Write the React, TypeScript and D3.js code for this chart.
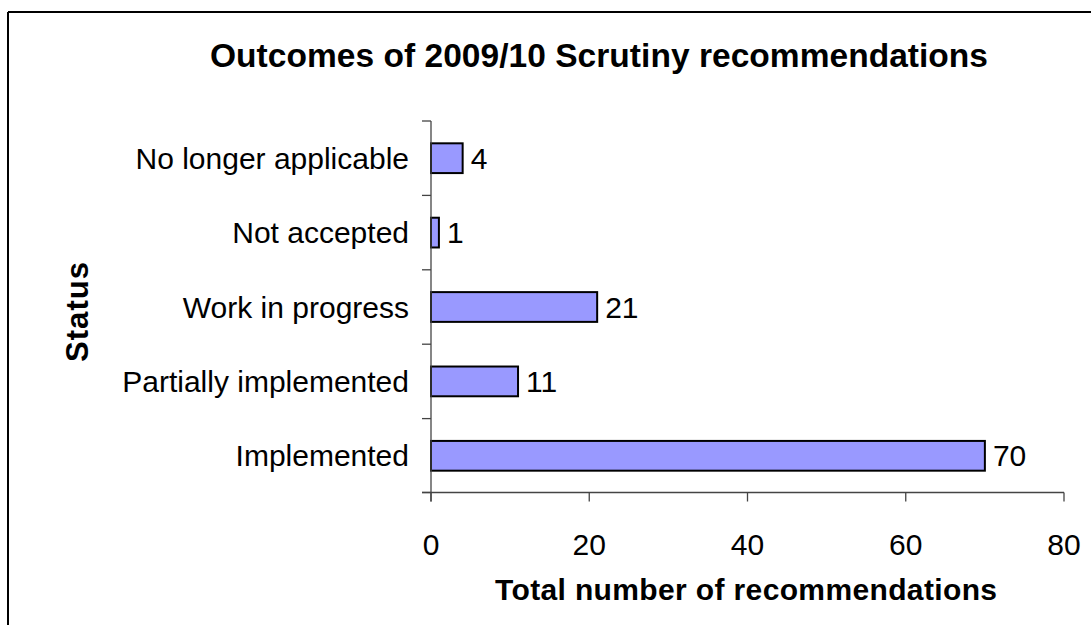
import React from "react";
import * as d3 from "d3";

const categories = ["No longer applicable", "Not accepted", "Work in progress", "Partially implemented", "Implemented"];
const values = [4, 1, 21, 11, 70];
const xTicks = [0, 20, 40, 60, 80];
const title = "Outcomes of 2009/10 Scrutiny recommendations";
const xTitle = "Total number of recommendations";
const yTitle = "Status";

const W = 1091;
const H = 625;
const FONT = "'Liberation Sans', Arial, sans-serif";

export default function App() {
  const x = d3.scaleLinear().domain([0, 80]).range([431, 1064]);
  const y = d3.scaleBand<string>().domain(categories).range([121, 493]).paddingInner(0.6).paddingOuter(0.3);
  const axisY = 492.5;
  const bw = y.bandwidth();
  const step = y.step();
  const boundaries = d3.range(categories.length + 1).map((i) => 121 + i * step);

  return (
    <svg width={W} height={H} style={{ position: "absolute", left: 0, top: 0, background: "#fff" }} fontFamily={FONT}>
      <rect x={0} y={0} width={W} height={H} fill="#fff" />
      <line x1={8} y1={12} x2={W} y2={12} stroke="#000" strokeWidth={2} />
      <line x1={8} y1={12} x2={8} y2={H} stroke="#000" strokeWidth={2} />

      <text x={599} y={67} textAnchor="middle" fontSize={33.5} fontWeight="bold" textLength={778} lengthAdjust="spacing">
        {title}
      </text>

      {categories.map((c, i) => (
        <g key={c}>
          <rect x={x(0)} y={y(c)!} width={x(values[i]) - x(0)} height={bw} fill="#9999FF" stroke="#000" strokeWidth={2} />
          <text x={x(values[i]) + 8} y={y(c)! + bw / 2 + 10.5} fontSize={30}>
            {values[i]}
          </text>
          <text x={409} y={y(c)! + bw / 2 + 10.5} fontSize={30} textAnchor="end">
            {c}
          </text>
        </g>
      ))}

      <line x1={431} y1={121} x2={431} y2={axisY + 9} stroke="#444" strokeWidth={1.3} />
      {boundaries.map((b, i) => (
        <line key={i} x1={422} x2={431} y1={Math.min(b, axisY)} y2={Math.min(b, axisY)} stroke="#444" strokeWidth={1.3} />
      ))}

      <line x1={422} y1={axisY} x2={x(80)} y2={axisY} stroke="#444" strokeWidth={1.3} />
      {xTicks.map((t) => (
        <g key={t}>
          <line x1={x(t)} x2={x(t)} y1={axisY} y2={axisY + 9} stroke="#444" strokeWidth={1.3} />
          <text x={x(t)} y={555} fontSize={30} textAnchor="middle">
            {t}
          </text>
        </g>
      ))}

      <text x={746} y={600} textAnchor="middle" fontSize={30} fontWeight="bold" textLength={502} lengthAdjust="spacing">
        {xTitle}
      </text>
      <text
        transform={`translate(88,312) rotate(-90)`}
        textAnchor="middle"
        fontSize={31}
        fontWeight="bold"
        textLength={100}
        lengthAdjust="spacing"
      >
        {yTitle}
      </text>
    </svg>
  );
}
